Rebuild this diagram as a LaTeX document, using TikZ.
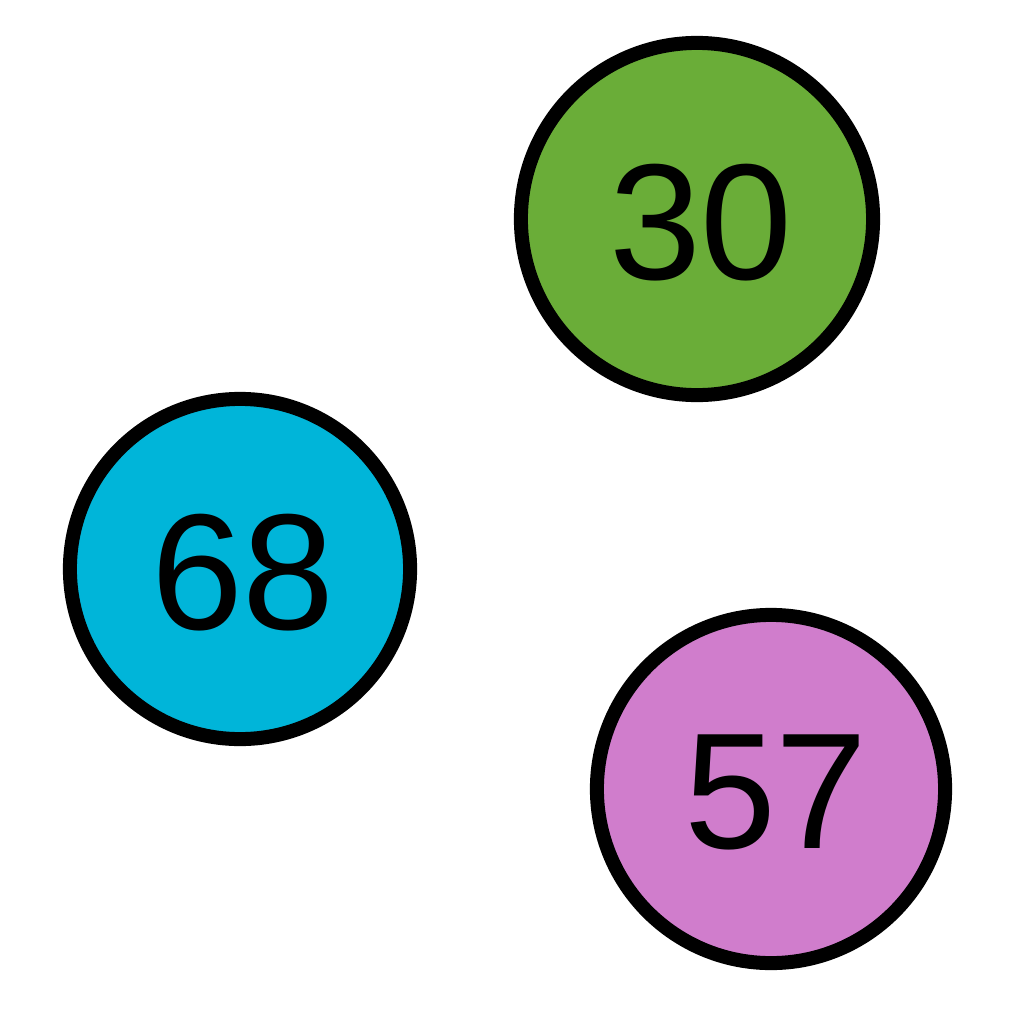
\documentclass[tikz,border=0pt]{standalone}
\usepackage{fontspec}
\setmainfont{Liberation Sans}
\definecolor{ballgreen}{HTML}{6AAD38}
\definecolor{ballcyan}{HTML}{00B5D9}
\definecolor{ballpink}{HTML}{D07DCC}
\begin{document}
\begin{tikzpicture}[x=0.01cm,y=-0.01cm,line join=round,font=\fontsize{47}{56}\selectfont,
	ball/.style={circle,draw=black,line width=0.14cm,inner sep=0pt},
	num/.style={text depth=0pt,yshift=-0.03cm}]
		\useasboundingbox (0,0) rectangle (1024,1024);
		%
		\node [ball, fill=ballgreen, minimum size=3.52cm] (n30) at (697,219) {};
		\node [ball, fill=ballcyan, minimum size=3.40cm] (n68) at (240,569) {};
		\node [ball, fill=ballpink, minimum size=3.48cm] (n57) at (771,789) {};
		\node [num, xshift=0.04cm] at (n30.center) {30};
		\node [num, xshift=0.03cm] at (n68.center) {68};
		\node [num, xshift=0.05cm] at (n57.center) {57};
	\end{tikzpicture}
\end{document}
